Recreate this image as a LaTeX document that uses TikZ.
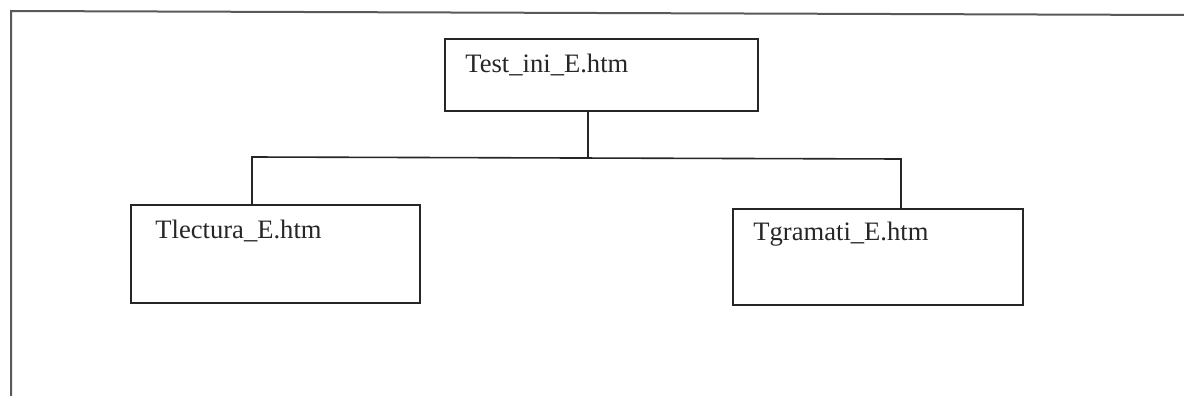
\documentclass[tikz,border=0pt]{standalone}
\usepackage{fontspec}
\setmainfont{Liberation Serif}
\begin{document}
\begin{tikzpicture}[x=0.5pt,y=-0.5pt,
  boxstyle/.style={draw=black!85, line width=0.9pt, rectangle, inner sep=0pt, anchor=north west},
  lbl/.style={anchor=base west, inner sep=0pt, font=\fontsize{13.3pt}{15pt}\selectfont, text=black!85},
  link/.style={draw=black!85, line width=0.8pt},
  frame/.style={draw=black!65, line width=1pt}]
\useasboundingbox (0,0) rectangle (1184,396);
% outer frame (only top and left edges visible)
\coordinate (ftl) at (11,11);
\coordinate (ftr) at (1184,15);
\coordinate (fbl) at (11,396);
\draw[frame] (ftr) -- (ftl) -- (fbl);
% boxes
\node[boxstyle, minimum width=156.5pt, minimum height=36pt] (top) at (444,38) {};
\node[boxstyle, minimum width=144.5pt, minimum height=49pt] (left) at (130,204) {};
\node[boxstyle, minimum width=145pt, minimum height=48pt] (right) at (732,208) {};
% labels
\node[lbl] (ttop) at (465,72) {Test\_ini\_E.htm};
\node[lbl] (tleft) at (155,238) {Tlectura\_E.htm};
\node[lbl] (tright) at (753,240) {Tgramati\_E.htm};
% connectors
\coordinate (jc) at (588,158);
\coordinate (jl) at (252,157);
\coordinate (jr) at (901,159);
\draw[link] (jc |- top.south) -- (jc);
\draw[link] (jl |- left.north) -- (jl) -- (jr) -- (jr |- right.north);
\end{tikzpicture}
\end{document}
